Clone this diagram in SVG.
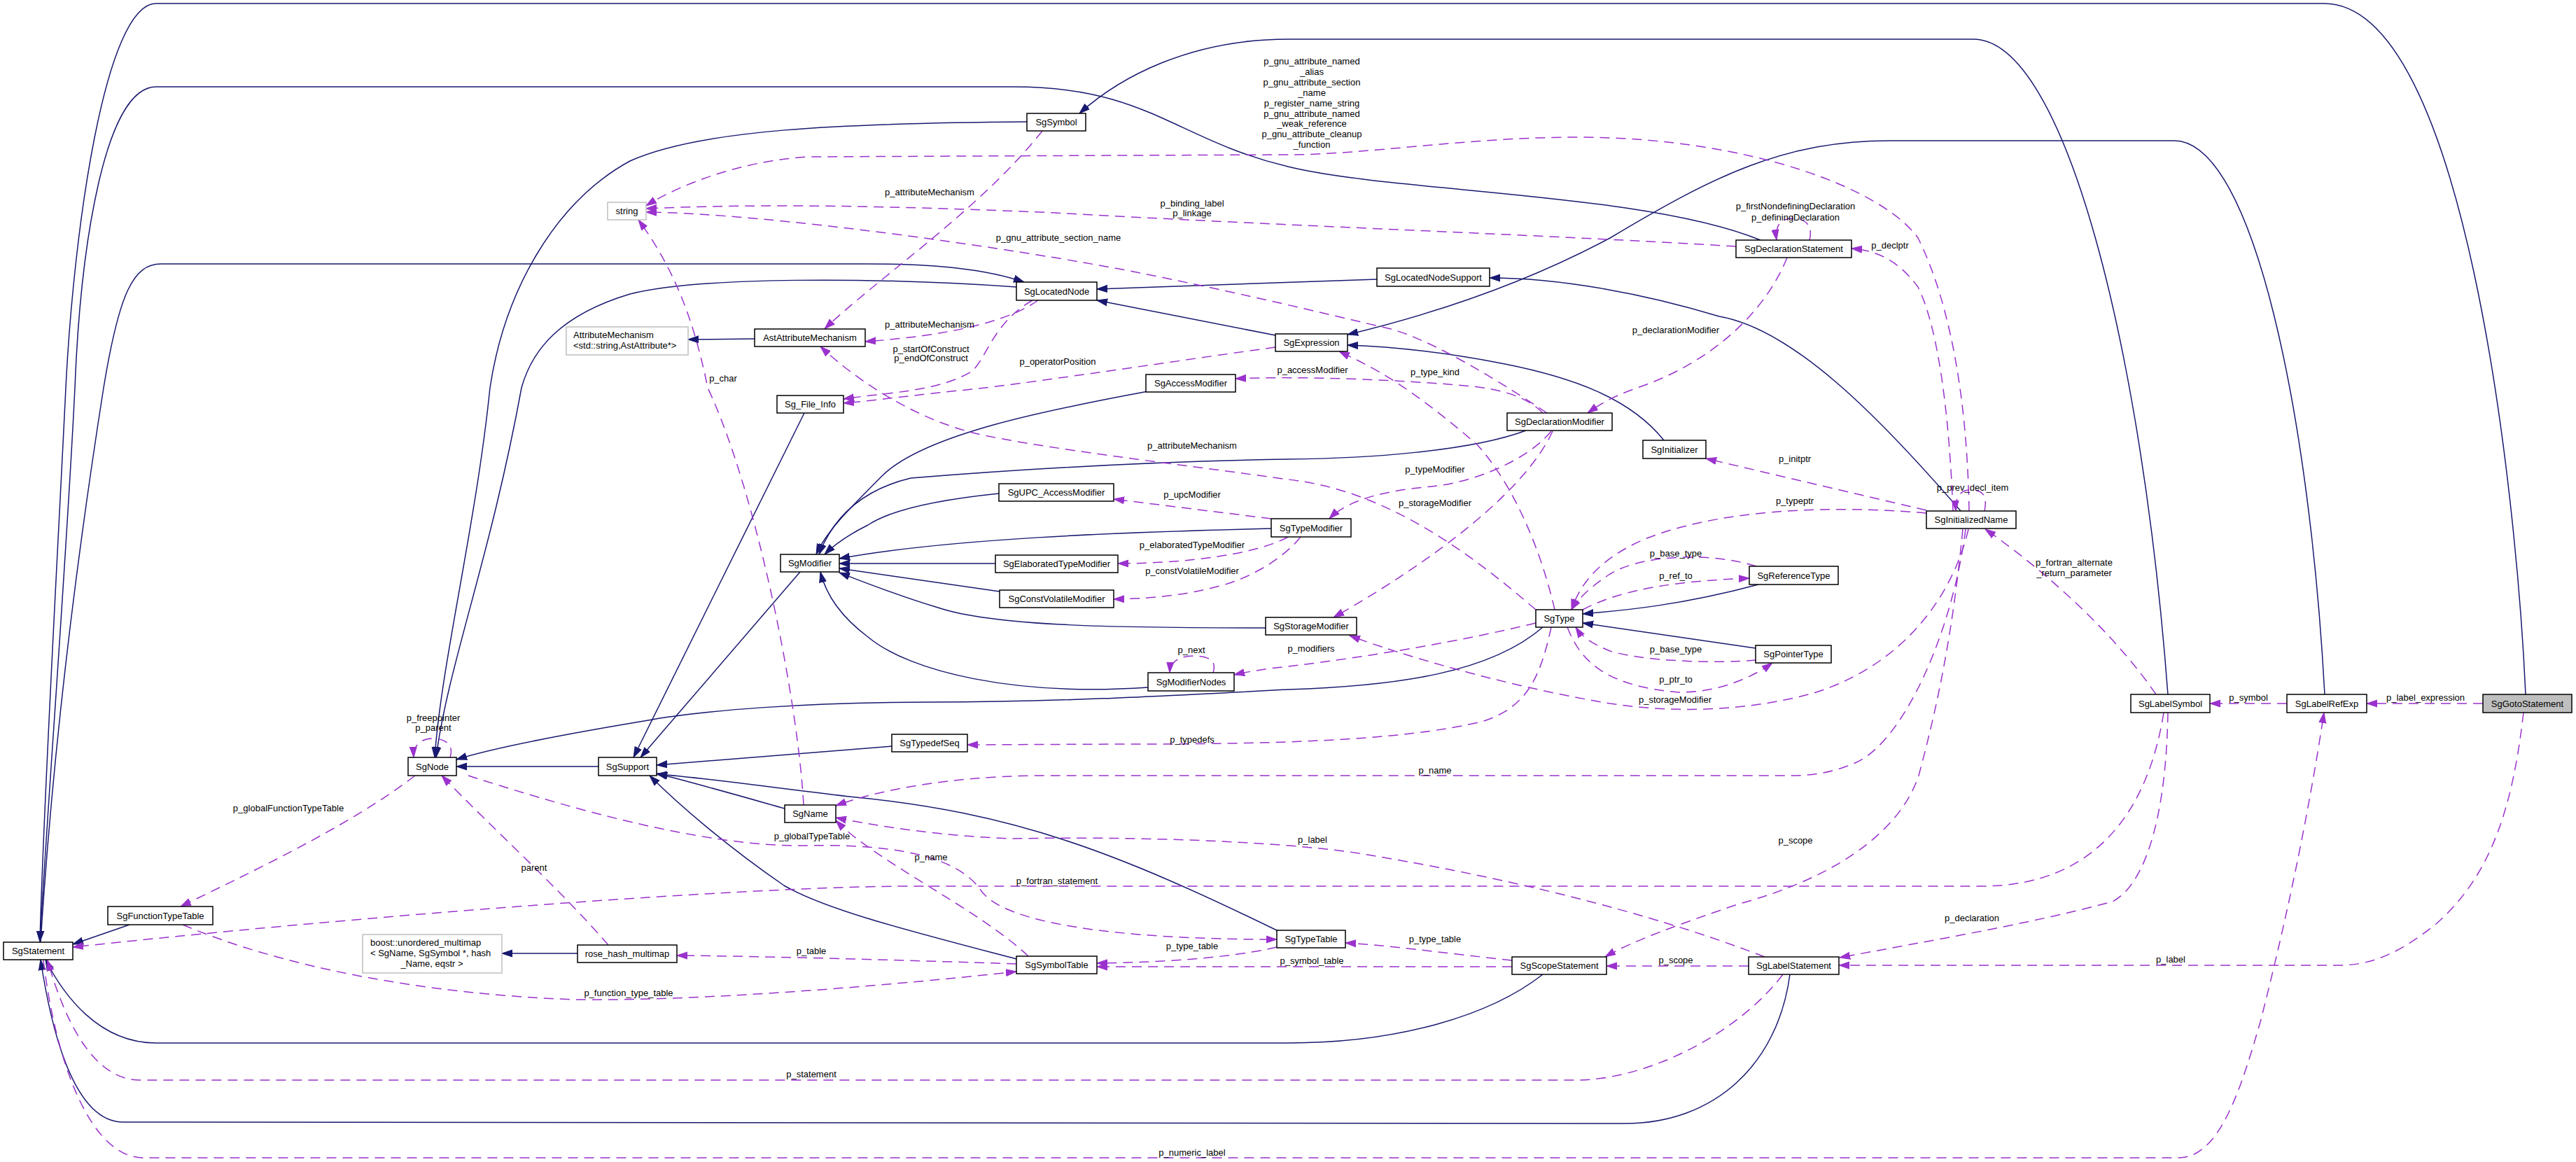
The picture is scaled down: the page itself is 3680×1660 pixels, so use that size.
<svg xmlns="http://www.w3.org/2000/svg" width="3680" height="1660" viewBox="0 0 3680 1660">
<defs>
<style>
text{font-family:"Liberation Sans",Arial,sans-serif;font-size:13px;fill:#000}
.nd rect{fill:#fff;stroke:#000;stroke-width:1.5}
.gr rect{fill:#fff;stroke:#bfbfbf;stroke-width:1.5}
.cur rect{fill:#bfbfbf;stroke:#000;stroke-width:1.5}
.nd text,.cur text,.gr text.c{text-anchor:middle}
.inh{fill:none;stroke:#191970;stroke-width:1.5;marker-end:url(#an)}
.use{fill:none;stroke:#9a32cd;stroke-width:1.5;stroke-dasharray:14,9;marker-end:url(#ap)}
.lb text{text-anchor:middle}
</style>
<marker id="an" markerUnits="userSpaceOnUse" markerWidth="16" markerHeight="12" refX="15" refY="6" orient="auto"><path d="M0,1 L15,6 L0,11 z" fill="#191970" stroke="#191970"/></marker>
<marker id="ap" markerUnits="userSpaceOnUse" markerWidth="16" markerHeight="12" refX="15" refY="6" orient="auto"><path d="M0,1 L15,6 L0,11 z" fill="#9a32cd" stroke="#9a32cd"/></marker>
</defs>
<rect width="3680" height="1660" fill="#fff"/>
<g id="connectors">
<path class="inh" d="M3608,992 C3595,700 3520,5 3320,5 L223,5 C150,5 105,330 94,554 C82,800 62,1150 57,1345"/>
<path class="inh" d="M2515,343 C2350,275 1990,275 1840,238 C1680,200 1640,124 1448,124 L223,124 C150,124 115,350 107,554 C95,800 68,1150 57,1345"/>
<path class="inh" d="M58,1346 C80,1000 125,700 148,554 C170,420 190,377 230,377 L1237,377 C1340,377 1410,385 1463,403"/>
<path class="inh" d="M1467,174 C1200,176 1000,185 900,230 C790,290 720,420 700,554 C680,750 630,950 621,1082"/>
<path class="inh" d="M1452,410 C1250,396 1000,395 900,420 C800,450 760,500 745,554 C700,800 640,950 623,1082"/>
<path class="inh" d="M1967,399 C1800,405 1650,410 1567,413"/>
<path class="inh" d="M1822,479 L1567,429"/>
<path class="inh" d="M2801,730 C2680,590 2560,470 2456,452 C2350,420 2230,397 2128,397"/>
<path class="inh" d="M3097,992 C3060,500 2950,56 2819,56 L1840,56 C1700,56 1600,110 1542,162"/>
<path class="inh" d="M3321,992 C3300,600 3220,201 3106,201 L2700,201 C2550,201 2450,250 2300,340 C2150,420 2000,460 1925,478"/>
<path class="inh" d="M1078,484 L983,485"/>
<path class="inh" d="M2377,629 C2330,570 2250,540 2150,520 C2050,500 1980,495 1925,493"/>
<path class="inh" d="M2180,615 C2100,645 1950,655 1840,656 C1600,660 1400,675 1301,683 C1230,700 1190,740 1170,792"/>
<path class="inh" d="M1640,559 C1500,585 1320,620 1260,680 C1210,730 1180,760 1166,792"/>
<path class="inh" d="M1427,705 C1330,715 1270,730 1240,750 C1210,765 1190,780 1178,792"/>
<path class="inh" d="M1816,755 C1600,760 1350,770 1199,798"/>
<path class="inh" d="M1422,805 L1199,805"/>
<path class="inh" d="M1428,845 L1199,812"/>
<path class="inh" d="M1808,897 C1600,897 1420,895 1340,868 C1280,850 1230,830 1199,818"/>
<path class="inh" d="M1640,982 C1450,995 1300,960 1240,910 C1200,880 1180,850 1172,817"/>
<path class="inh" d="M1143,817 L915,1082"/>
<path class="inh" d="M1149,590 L905,1082"/>
<path class="inh" d="M2204,896 C2130,960 2000,980 1840,985 C1650,995 1500,1003 1331,1003 C1150,1003 1000,1015 920,1030 C800,1050 700,1070 652,1085"/>
<path class="inh" d="M855,1095 L652,1095"/>
<path class="inh" d="M1274,1066 L938,1093"/>
<path class="inh" d="M1121,1155 C1050,1135 980,1115 938,1105"/>
<path class="inh" d="M1826,1330 C1600,1220 1450,1160 1213,1138 C1100,1125 1000,1110 938,1106"/>
<path class="inh" d="M1452,1370 C1300,1330 1180,1300 1120,1265 C1040,1210 970,1150 928,1108"/>
<path class="inh" d="M825,1362 L717,1362"/>
<path class="inh" d="M185,1321 L104,1349"/>
<path class="inh" d="M2204,1392 C2130,1450 2000,1490 1840,1490 L223,1490 C140,1490 90,1420 65,1371"/>
<path class="inh" d="M2557,1392 C2540,1520 2450,1605 2321,1605 L176,1603 C100,1603 70,1450 58,1371"/>
<path class="inh" d="M2512,835 C2400,865 2320,872 2261,877"/>
<path class="inh" d="M2508,926 L2261,890"/>

<path class="use" d="M3547,1005 L3381,1005"/>
<path class="use" d="M3267,1005 L3157,1005"/>
<path class="use" d="M3605,1018 C3590,1150 3560,1250 3480,1320 C3430,1360 3390,1379 3341,1379 L2627,1379"/>
<path class="use" d="M3097,1018 C3095,1150 3070,1260 3018,1288 C2900,1320 2750,1345 2628,1368"/>
<path class="use" d="M3080,992 C3010,890 2900,800 2836,756"/>
<path class="use" d="M62,1372 C80,1520 130,1654 205,1654 L3112,1654 C3170,1654 3200,1560 3229,1460 C3270,1300 3300,1150 3320,1018"/>
<path class="use" d="M2547,1392 C2480,1480 2350,1543 2251,1543 L200,1543 C130,1543 90,1450 68,1372"/>
<path class="use" d="M3091,1018 C3070,1150 3000,1266 2830,1266 L1300,1266 C1100,1266 600,1300 104,1353"/>
<path class="use" d="M2498,1380 L2295,1380"/>
<path class="use" d="M2804,756 C2790,900 2770,1000 2741,1108 C2710,1200 2600,1260 2485,1291 C2400,1320 2330,1345 2293,1367"/>
<path class="use" d="M2808,756 C2790,900 2720,1060 2650,1090 C2620,1103 2590,1108 2560,1108 L1477,1108 C1350,1110 1250,1130 1194,1151"/>
<path class="use" d="M2812,756 C2790,850 2720,950 2591,990 C2500,1015 2400,1020 2300,1005 C2150,980 2000,935 1928,908"/>
<path class="use" d="M2752,733 C2600,720 2450,730 2350,770 C2280,800 2255,840 2245,871"/>
<path class="use" d="M2752,729 L2437,655"/>
<path class="use" d="M2835,730 C2840,705 2830,700 2815,700 C2800,700 2793,710 2794,730"/>
<path class="use" d="M2790,730 C2785,600 2770,470 2740,410 C2710,370 2680,358 2645,355"/>
<path class="use" d="M2813,730 C2810,550 2780,420 2740,340 C2690,270 2500,196 2251,196 C2100,196 1950,221 1840,221 L1155,224 C1050,230 960,270 923,294"/>
<path class="use" d="M2480,352 C2200,335 1840,323 1507,304 C1300,295 1100,290 923,298"/>
<path class="use" d="M2585,343 C2592,315 2570,312 2560,312 C2545,312 2535,322 2538,343"/>
<path class="use" d="M2553,368 C2520,450 2440,520 2339,554 C2300,568 2285,578 2268,590"/>
<path class="use" d="M2204,590 C2180,565 2140,556 2104,552 C2000,542 1850,537 1765,541"/>
<path class="use" d="M2210,590 C2180,570 2060,490 1987,470 C1900,450 1780,420 1624,389 C1450,355 1100,305 923,303"/>
<path class="use" d="M2216,616 C2180,660 2100,690 2045,695 C1990,700 1930,710 1899,741"/>
<path class="use" d="M2218,616 C2180,700 2050,800 1905,882"/>
<path class="use" d="M1816,741 L1591,713"/>
<path class="use" d="M1840,767 C1800,790 1700,805 1597,805"/>
<path class="use" d="M1858,767 C1840,790 1800,820 1750,835 C1690,852 1640,855 1591,856"/>
<path class="use" d="M1733,961 C1740,940 1720,937 1705,937 C1690,937 1672,942 1671,961"/>
<path class="use" d="M2194,890 C2050,925 1900,945 1840,952 C1810,955 1780,960 1763,964"/>
<path class="use" d="M2216,896 C2200,970 2180,1010 2120,1030 C2000,1060 1800,1063 1600,1063 L1382,1064"/>
<path class="use" d="M2221,871 C2200,780 2160,690 2110,635 C2000,540 1950,520 1913,502"/>
<path class="use" d="M2194,871 C2100,790 1980,700 1840,685 C1700,665 1480,640 1389,618 C1300,595 1220,540 1172,495"/>
<path class="use" d="M2509,809 C2450,790 2350,790 2300,820 C2270,840 2255,855 2245,871"/>
<path class="use" d="M2261,871 C2320,840 2400,830 2499,826"/>
<path class="use" d="M2509,943 C2450,948 2350,945 2300,930 C2275,920 2260,910 2251,896"/>
<path class="use" d="M2239,896 C2260,950 2300,980 2397,989 C2450,990 2500,970 2532,947"/>
<path class="use" d="M1483,429 C1440,460 1350,480 1236,488"/>
<path class="use" d="M1475,429 C1420,460 1410,510 1389,530 C1340,560 1270,560 1205,570"/>
<path class="use" d="M1822,496 C1650,520 1450,550 1389,556 C1300,565 1250,572 1205,576"/>
<path class="use" d="M1489,187 C1400,300 1250,400 1178,470"/>
<path class="use" d="M1148,1150 C1140,1000 1080,700 1011,554 C990,450 960,380 912,314"/>
<path class="use" d="M643,1082 C650,1060 630,1055 618,1055 C605,1055 590,1062 591,1082"/>
<path class="use" d="M593,1108 C500,1180 350,1250 258,1295"/>
<path class="use" d="M669,1108 C800,1150 1000,1210 1150,1208 C1300,1205 1370,1230 1400,1270 C1430,1320 1600,1342 1824,1342"/>
<path class="use" d="M869,1350 C800,1270 700,1180 631,1108"/>
<path class="use" d="M261,1321 C400,1380 600,1420 822,1428 C1000,1430 1250,1410 1452,1388"/>
<path class="use" d="M1452,1377 C1300,1372 1100,1366 967,1365"/>
<path class="use" d="M1469,1366 C1400,1300 1250,1230 1194,1172"/>
<path class="use" d="M2160,1372 C2050,1360 1980,1350 1922,1347"/>
<path class="use" d="M2160,1381 L1567,1381"/>
<path class="use" d="M1824,1353 C1750,1370 1650,1375 1567,1376"/>
<path class="use" d="M2521,1367 C2400,1320 2200,1260 1928,1217 C1800,1200 1600,1195 1448,1198 C1350,1195 1250,1180 1194,1168"/>

<g class="lb">
<text x="3465" y="1001">p_label_expression</text>
<text x="3212" y="1001">p_symbol</text>
<text x="3101" y="1375">p_label</text>
<text x="2817" y="1316">p_declaration</text>
<text x="2963" y="808">p_fortran_alternate</text>
<text x="2963" y="823">_return_parameter</text>
<text x="1703" y="1651">p_numeric_label</text>
<text x="1159" y="1539">p_statement</text>
<text x="1510" y="1263">p_fortran_statement</text>
<text x="2394" y="1376">p_scope</text>
<text x="2565" y="1205">p_scope</text>
<text x="2050" y="1105">p_name</text>
<text x="2393" y="1004">p_storageModifier</text>
<text x="2564" y="720">p_typeptr</text>
<text x="2564" y="660">p_initptr</text>
<text x="2818" y="701">p_prev_decl_item</text>
<text x="2700" y="355">p_declptr</text>
<text x="1874" y="92">p_gnu_attribute_named</text>
<text x="1874" y="107">_alias</text>
<text x="1874" y="122">p_gnu_attribute_section</text>
<text x="1874" y="137">_name</text>
<text x="1874" y="152">p_register_name_string</text>
<text x="1874" y="167">p_gnu_attribute_named</text>
<text x="1874" y="181">_weak_reference</text>
<text x="1874" y="196">p_gnu_attribute_cleanup</text>
<text x="1874" y="211">_function</text>
<text x="1703" y="295">p_binding_label</text>
<text x="1703" y="309">p_linkage</text>
<text x="2565" y="299">p_firstNondefiningDeclaration</text>
<text x="2565" y="315">p_definingDeclaration</text>
<text x="2394" y="476">p_declarationModifier</text>
<text x="1875" y="533">p_accessModifier</text>
<text x="1512" y="344">p_gnu_attribute_section_name</text>
<text x="2050" y="675">p_typeModifier</text>
<text x="2050" y="723">p_storageModifier</text>
<text x="1703" y="711">p_upcModifier</text>
<text x="1703" y="783">p_elaboratedTypeModifier</text>
<text x="1703" y="820">p_constVolatileModifier</text>
<text x="1702" y="933">p_next</text>
<text x="1873" y="931">p_modifiers</text>
<text x="1703" y="1061">p_typedefs</text>
<text x="2050" y="536">p_type_kind</text>
<text x="1703" y="641">p_attributeMechanism</text>
<text x="2394" y="795">p_base_type</text>
<text x="2394" y="827">p_ref_to</text>
<text x="2394" y="932">p_base_type</text>
<text x="2394" y="975">p_ptr_to</text>
<text x="1328" y="468">p_attributeMechanism</text>
<text x="1330" y="503">p_startOfConstruct</text>
<text x="1330" y="516">p_endOfConstruct</text>
<text x="1511" y="521">p_operatorPosition</text>
<text x="1328" y="279">p_attributeMechanism</text>
<text x="1033" y="545">p_char</text>
<text x="619" y="1030">p_freepointer</text>
<text x="619" y="1044">p_parent</text>
<text x="412" y="1159">p_globalFunctionTypeTable</text>
<text x="1160" y="1199">p_globalTypeTable</text>
<text x="763" y="1244">parent</text>
<text x="898" y="1423">p_function_type_table</text>
<text x="1159" y="1363">p_table</text>
<text x="1330" y="1229">p_name</text>
<text x="2050" y="1346">p_type_table</text>
<text x="1874" y="1377">p_symbol_table</text>
<text x="1703" y="1356">p_type_table</text>
<text x="1875" y="1204">p_label</text>
</g>
</g>

<g id="SgGotoStatement" class="cur"><rect x="3547" y="992" width="127" height="26"/><text x="3610.5" y="1009.5">SgGotoStatement</text></g>
<g id="SgLabelRefExp" class="nd"><rect x="3267" y="992" width="114" height="26"/><text x="3324" y="1009.5">SgLabelRefExp</text></g>
<g id="SgLabelSymbol" class="nd"><rect x="3044" y="992" width="113" height="26"/><text x="3100.5" y="1009.5">SgLabelSymbol</text></g>
<g id="SgInitializedName" class="nd"><rect x="2752" y="730" width="128" height="25"/><text x="2816" y="747">SgInitializedName</text></g>
<g id="SgDeclarationStatement" class="nd"><rect x="2480" y="343" width="165" height="25"/><text x="2562.5" y="360">SgDeclarationStatement</text></g>
<g id="SgLocatedNodeSupport" class="nd"><rect x="1967" y="383" width="161" height="26"/><text x="2047.5" y="400.5">SgLocatedNodeSupport</text></g>
<g id="SgExpression" class="nd"><rect x="1822" y="477" width="103" height="25"/><text x="1873.5" y="494">SgExpression</text></g>
<g id="SgSymbol" class="nd"><rect x="1467" y="162" width="84" height="25"/><text x="1509" y="179">SgSymbol</text></g>
<g id="SgLocatedNode" class="nd"><rect x="1452" y="403" width="115" height="26"/><text x="1509.5" y="420.5">SgLocatedNode</text></g>
<g id="AstAttributeMechanism" class="nd"><rect x="1078" y="470" width="158" height="25"/><text x="1157" y="487">AstAttributeMechanism</text></g>
<g id="AttributeMechanism" class="gr"><rect x="809" y="467" width="174" height="40"/><text x="819" y="483">AttributeMechanism</text><text x="819" y="498">&lt;std::string,AstAttribute*&gt;</text></g>
<g id="string" class="gr"><rect x="868" y="289" width="55" height="25"/><text class="c" x="895.5" y="306">string</text></g>
<g id="SgAccessModifier" class="nd"><rect x="1637" y="535" width="128" height="25"/><text x="1701" y="552">SgAccessModifier</text></g>
<g id="Sg_File_Info" class="nd"><rect x="1110" y="565" width="95" height="25"/><text x="1157.5" y="582">Sg_File_Info</text></g>
<g id="SgDeclarationModifier" class="nd"><rect x="2153" y="590" width="150" height="25"/><text x="2228" y="607">SgDeclarationModifier</text></g>
<g id="SgInitializer" class="nd"><rect x="2347" y="629" width="90" height="26"/><text x="2392" y="646.5">SgInitializer</text></g>
<g id="SgUPC_AccessModifier" class="nd"><rect x="1427" y="691" width="164" height="25"/><text x="1509" y="708">SgUPC_AccessModifier</text></g>
<g id="SgTypeModifier" class="nd"><rect x="1816" y="741" width="114" height="26"/><text x="1873" y="758.5">SgTypeModifier</text></g>
<g id="SgModifier" class="nd"><rect x="1115" y="792" width="84" height="25"/><text x="1157" y="809">SgModifier</text></g>
<g id="SgElaboratedTypeModifier" class="nd"><rect x="1422" y="793" width="175" height="25"/><text x="1509.5" y="810">SgElaboratedTypeModifier</text></g>
<g id="SgReferenceType" class="nd"><rect x="2499" y="809" width="127" height="26"/><text x="2562.5" y="826.5">SgReferenceType</text></g>
<g id="SgConstVolatileModifier" class="nd"><rect x="1428" y="843" width="163" height="25"/><text x="1509.5" y="860">SgConstVolatileModifier</text></g>
<g id="SgType" class="nd"><rect x="2194" y="871" width="67" height="25"/><text x="2227.5" y="888">SgType</text></g>
<g id="SgStorageModifier" class="nd"><rect x="1808" y="882" width="130" height="25"/><text x="1873" y="899">SgStorageModifier</text></g>
<g id="SgPointerType" class="nd"><rect x="2508" y="922" width="108" height="25"/><text x="2562" y="939">SgPointerType</text></g>
<g id="SgModifierNodes" class="nd"><rect x="1640" y="961" width="123" height="26"/><text x="1701.5" y="978.5">SgModifierNodes</text></g>
<g id="SgTypedefSeq" class="nd"><rect x="1274" y="1049" width="108" height="25"/><text x="1328" y="1066">SgTypedefSeq</text></g>
<g id="SgNode" class="nd"><rect x="583" y="1082" width="69" height="26"/><text x="617.5" y="1099.5">SgNode</text></g>
<g id="SgSupport" class="nd"><rect x="855" y="1082" width="83" height="26"/><text x="896.5" y="1099.5">SgSupport</text></g>
<g id="SgName" class="nd"><rect x="1121" y="1150" width="73" height="25"/><text x="1157.5" y="1167">SgName</text></g>
<g id="SgFunctionTypeTable" class="nd"><rect x="154" y="1295" width="150" height="26"/><text x="229" y="1312.5">SgFunctionTypeTable</text></g>
<g id="SgTypeTable" class="nd"><rect x="1824" y="1329" width="98" height="25"/><text x="1873" y="1346">SgTypeTable</text></g>
<g id="boost_unordered_multimap" class="gr"><rect x="518" y="1335" width="199" height="55"/><text x="529" y="1351">boost::unordered_multimap</text><text x="529" y="1366">&lt; SgName, SgSymbol *, hash</text><text class="c" x="617" y="1381">_Name, eqstr &gt;</text></g>
<g id="SgStatement" class="nd"><rect x="5" y="1346" width="99" height="25"/><text x="54.5" y="1363">SgStatement</text></g>
<g id="rose_hash_multimap" class="nd"><rect x="825" y="1350" width="142" height="25"/><text x="896" y="1367">rose_hash_multimap</text></g>
<g id="SgSymbolTable" class="nd"><rect x="1452" y="1366" width="115" height="25"/><text x="1509.5" y="1383">SgSymbolTable</text></g>
<g id="SgScopeStatement" class="nd"><rect x="2160" y="1367" width="135" height="25"/><text x="2227.5" y="1384">SgScopeStatement</text></g>
<g id="SgLabelStatement" class="nd"><rect x="2498" y="1367" width="129" height="25"/><text x="2562.5" y="1384">SgLabelStatement</text></g>
</svg>
